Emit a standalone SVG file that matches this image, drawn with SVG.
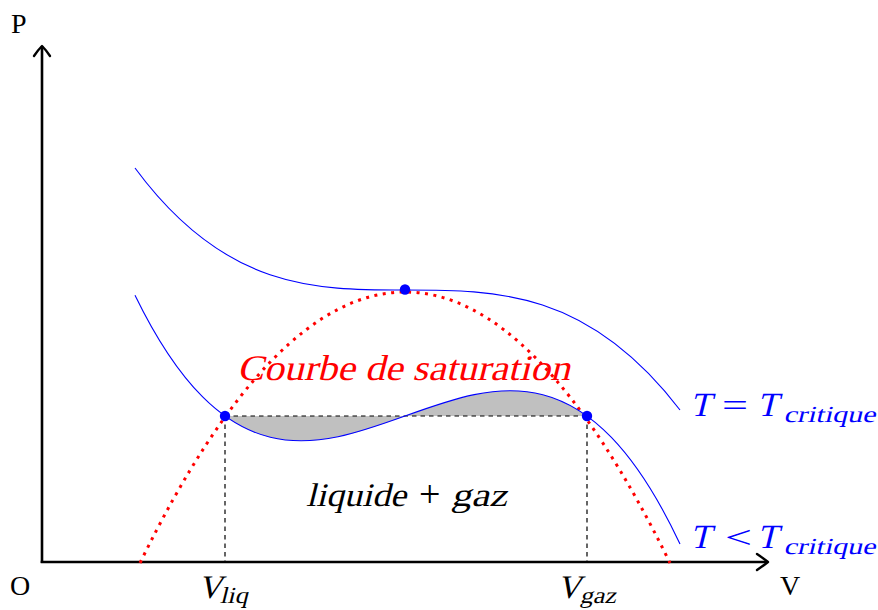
<svg xmlns="http://www.w3.org/2000/svg" width="878" height="610" viewBox="0 0 878 610">
<defs>
<style>
.axis{stroke:#000;stroke-width:2.6;fill:none}
.arrow{stroke:#000;stroke-width:2.4;fill:none;stroke-linecap:round;stroke-linejoin:round}
.iso{stroke:#0000ff;stroke-width:1.1;fill:none}
.dash{stroke:#000;stroke-width:1.2;stroke-dasharray:4.5 4;fill:none}
.sat{stroke:#ff0000;stroke-width:3;stroke-dasharray:3 5.5;fill:none}
.dot{fill:#0000ff}
.lbl{font-family:"Liberation Serif",serif;font-size:28px;fill:#000}
.math{font-family:"Liberation Serif",serif;font-size:33px}
.big{font-family:"Liberation Serif",serif;font-size:34px}
.op{font-family:"Liberation Serif",serif;font-size:32px}
.sub{font-size:23px}
</style>
</defs>
<g id="fill-area">
<path d="M225,416 C345.67,502.49 466.33,328.55 587,416 Z" fill="#c0c0c0" stroke="none"/>
</g>
<g id="axes">
<line class="axis" x1="42" y1="563" x2="42" y2="46"/>
<line class="axis" x1="40.7" y1="562" x2="767" y2="562"/>
<path class="arrow" d="M34,56 Q38,50 42,46 Q46,50 50,56"/>
<path class="arrow" d="M757,554 Q763,558 768,562 Q763,566 757,570"/>
<text class="lbl" x="11" y="33">P</text>
<text class="lbl" x="10" y="595">O</text>
<text class="lbl" x="780" y="595">V</text>
</g>
<g id="connectors">
<line class="dash" x1="225" y1="416" x2="587" y2="416"/>
<line class="dash" x1="225" y1="416" x2="225" y2="561"/>
<line class="dash" x1="587" y1="416" x2="587" y2="561"/>
</g>
<g id="saturation-curve">
<path class="sat" d="M140,563 Q405,21 670,563"/>
</g>
<g id="isotherm-critical">
<path class="iso" d="M135,168 C225,290 315,290 405,290 C496.7,290 588.3,290 680,410"/>
</g>
<g id="isotherm-subcritical">
<path class="iso" d="M135,295.18 C316.67,668.91 498.33,158.29 680,544"/>
</g>
<g id="points">
<circle class="dot" cx="225" cy="416" r="5.2"/>
<circle class="dot" cx="587" cy="416" r="5.2"/>
<circle class="dot" cx="405" cy="289.5" r="5.2"/>
</g>
<g id="label-saturation">
<text class="math" style="font-size:36px" transform="translate(237,380) skewX(-14)" fill="#ff0000" textLength="333" lengthAdjust="spacingAndGlyphs">Courbe de saturation</text>
</g>
<g id="label-region">
<text class="math" transform="translate(306,506) skewX(-14)" fill="#000"><tspan textLength="100" lengthAdjust="spacingAndGlyphs">liquide</tspan><tspan x="145" textLength="56" lengthAdjust="spacingAndGlyphs">gaz</tspan></text>
<text class="op" style="font-size:38px" x="419" y="507" fill="#000">+</text>
</g>
<g id="label-vliq">
<text class="math" transform="translate(198,598) skewX(-14)" fill="#000">V<tspan class="sub" x="23" dy="5" textLength="28" lengthAdjust="spacingAndGlyphs">liq</tspan></text>
</g>
<g id="label-vgaz">
<text class="math" transform="translate(557,598) skewX(-14)" fill="#000">V<tspan class="sub" x="24" dy="5" textLength="36" lengthAdjust="spacingAndGlyphs">gaz</tspan></text>
</g>
<g id="label-tc">
<text class="big" transform="translate(690,416) skewX(-14)" fill="#0000ff">T<tspan x="67">T</tspan><tspan class="sub" x="95" dy="6" textLength="92" lengthAdjust="spacingAndGlyphs">critique</tspan></text>
<text class="op" x="722" y="416" fill="#0000ff" textLength="26" lengthAdjust="spacingAndGlyphs">=</text>
</g>
<g id="label-tlow">
<text class="big" transform="translate(690,548) skewX(-14)" fill="#0000ff">T<tspan x="67">T</tspan><tspan class="sub" x="95" dy="6" textLength="92" lengthAdjust="spacingAndGlyphs">critique</tspan></text>
<text class="op" x="725" y="548" fill="#0000ff" textLength="27" lengthAdjust="spacingAndGlyphs">&lt;</text>
</g>
</svg>
